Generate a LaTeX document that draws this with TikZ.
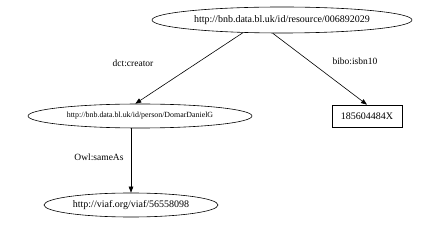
\documentclass[tikz,border=0pt]{standalone}
\usepackage{fontspec}
\setmainfont{Liberation Serif}
\usetikzlibrary{arrows.meta, shapes.geometric}

\begin{document}
\begin{tikzpicture}[x=1pt, y=-1pt, line width=0.6pt, >={Triangle[length=6pt,width=4.5pt]},
  res/.style={draw, ellipse, inner sep=0pt, font=\fontsize{10}{12}\selectfont},
  lit/.style={draw, rectangle, inner sep=0pt, minimum width=70pt, minimum height=22pt, font=\fontsize{10}{12}\selectfont},
  prop/.style={font=\fontsize{9.5}{11}\selectfont}]
  \useasboundingbox (0,0) rectangle (433,229);
  \node[res, minimum width=260pt, minimum height=26pt] (book) at (282,20) {http://bnb.data.bl.uk/id/resource/006892029};
  \node[res, minimum width=224pt, minimum height=24pt, font=\fontsize{7.9}{9.5}\selectfont] (person) at (140,116) {http://bnb.data.bl.uk/id/person/DomarDanielG};
  \node[lit] (isbn) at (367,116) {185604484X};
  \node[res, minimum width=174pt, minimum height=24pt] (viaf) at (131,205) {http://viaf.org/viaf/56558098};
  \draw[->] (book.198) -- (person.111);
  \draw[->] (book.235) -- (isbn.north);
  \draw[->] (person.south -| viaf.north) -- (viaf.north);
  \node[prop] (creator) at (133,63) {dct:creator};
  \node[prop] (isbnlab) at (355,61) {bibo:isbn10};
  \node[prop] (sameas) at (99,157) {Owl:sameAs};
\end{tikzpicture}
\end{document}
